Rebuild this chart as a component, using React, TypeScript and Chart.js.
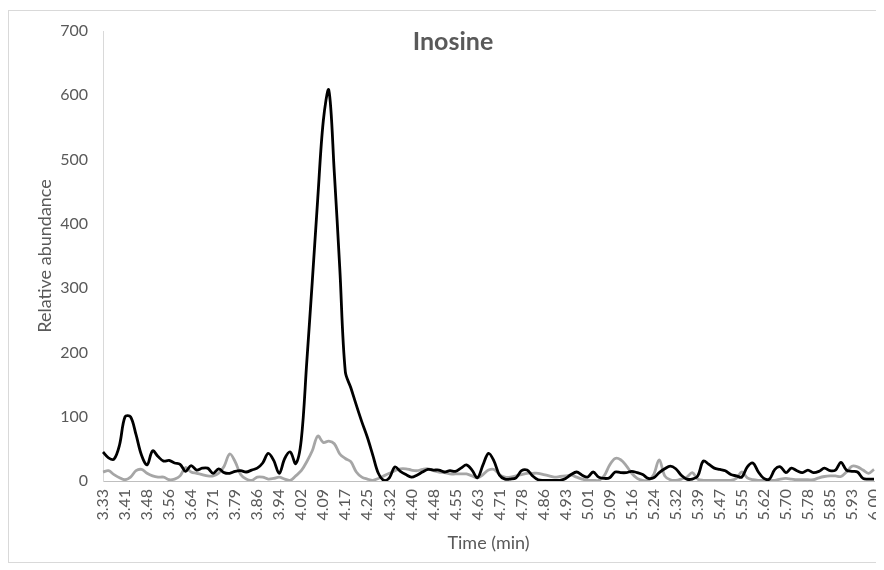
import React, { useEffect, useRef } from "react";
import { Chart, registerables } from "chart.js";

Chart.register(...registerables);

const chartTitle = "Inosine";
const xAxisTitle = "Time (min)";
const yAxisTitle = "Relative abundance";

// Axis tick labels shown every 4th data point
const tickLabels = [
  "3.33", "3.41", "3.48", "3.56", "3.64", "3.71", "3.79", "3.86", "3.94",
  "4.02", "4.09", "4.17", "4.25", "4.32", "4.40", "4.48", "4.55", "4.63",
  "4.71", "4.78", "4.86", "4.93", "5.01", "5.09", "5.16", "5.24", "5.32",
  "5.39", "5.47", "5.55", "5.62", "5.70", "5.78", "5.85", "5.93", "6.00",
];
const pointsPerTick = 4;

// Black trace
const blackSeries = [
  45, 36, 34, 56, 100, 100, 72, 40, 25, 47, 38, 31, 32, 28, 26, 15,
  24, 17, 20, 20, 12, 19, 13, 12, 15, 16, 14, 17, 20, 28, 43, 32,
  12, 35, 45, 27, 64, 185, 310, 440, 560, 608, 480, 330, 170, 145, 118, 92,
  68, 40, 12, 1, 5, 22, 15, 10, 6, 9, 14, 18, 17, 17, 14, 16,
  15, 20, 25, 17, 5, 25, 43, 31, 9, 3, 3, 5, 16, 17, 8, 2,
  1, 1, 1, 1, 4, 10, 14, 9, 6, 14, 6, 4, 5, 14, 13, 13,
  15, 13, 10, 4, 5, 13, 19, 23, 19, 9, 3, 3, 8, 31, 26, 20,
  18, 16, 10, 8, 6, 22, 28, 14, 4, 3, 18, 22, 13, 20, 16, 13,
  17, 13, 15, 20, 16, 17, 29, 17, 15, 14, 4, 3, 3,
];

// Gray trace
const graySeries = [
  14, 16, 10, 5, 2, 6, 16, 18, 12, 8, 6, 6, 2, 3, 8, 21,
  14, 12, 10, 8, 8, 12, 23, 42, 30, 10, 3, 1, 6, 6, 3, 4,
  6, 3, 1, 8, 16, 30, 47, 70, 60, 62, 58, 42, 35, 30, 14, 6,
  3, 1, 4, 8, 12, 16, 19, 19, 17, 16, 18, 19, 16, 14, 13, 11,
  11, 11, 11, 8, 5, 10, 17, 18, 10, 6, 6, 8, 10, 12, 12, 12,
  10, 8, 6, 7, 8, 9, 6, 3, 1, 1, 1, 8, 25, 35, 33, 24,
  12, 4, 1, 1, 10, 33, 8, 2, 1, 3, 6, 13, 3, 1, 1, 1,
  1, 1, 1, 4, 14, 5, 2, 1, 1, 1, 1, 3, 4, 3, 2, 2,
  2, 2, 5, 7, 8, 8, 7, 14, 23, 22, 17, 12, 18,
];

const yTicks = { min: 0, max: 700, step: 100 };

const textColor = "#595959";
const fontFamily = "Lato, 'Open Sans', sans-serif";

export default function App() {
  const canvasRef = useRef<HTMLCanvasElement | null>(null);

  useEffect(() => {
    const canvas = canvasRef.current;
    if (!canvas) return;

    const titlePlugin = {
      id: "overlayTitle",
      afterDraw(chart: any) {
        const ctx = chart.ctx;
        ctx.save();
        ctx.font = `bold 25px ${fontFamily}`;
        ctx.fillStyle = textColor;
        ctx.textAlign = "center";
        ctx.textBaseline = "middle";
        ctx.fillText(chartTitle, 445, 34);
        ctx.restore();
      },
    };

    const chart = new Chart(canvas, {
      type: "line",
      data: {
        labels: blackSeries.map((_, i) => i),
        datasets: [
          {
            label: "Black",
            data: blackSeries,
            borderColor: "#000000",
            borderWidth: 2.8,
            pointRadius: 0,
            tension: 0.35,
            fill: false,
          },
          {
            label: "Gray",
            data: graySeries,
            borderColor: "#a6a6a6",
            borderWidth: 2.8,
            pointRadius: 0,
            tension: 0.35,
            fill: false,
          },
        ],
      },
      options: {
        animation: false,
        responsive: false,
        maintainAspectRatio: false,
        layout: { padding: { top: 23, right: 10, bottom: 0, left: 0 } },
        plugins: {
          legend: { display: false },
          tooltip: { enabled: false },
          title: { display: false },
        },
        scales: {
          x: {
            type: "category",
            offset: false,
            grid: { display: false, drawTicks: false },
            border: { display: true, color: "#bfbfbf", width: 1 },
            ticks: {
              autoSkip: false,
              minRotation: 90,
              maxRotation: 90,
              padding: 8,
              color: textColor,
              font: { family: fontFamily, size: 16 },
              callback: (_v: any, index: number) =>
                index % pointsPerTick === 0 ? tickLabels[index / pointsPerTick] : null,
            },
            title: {
              display: true,
              text: xAxisTitle,
              color: textColor,
              font: { family: fontFamily, size: 18 },
              padding: { top: 0, bottom: 16 },
            },
            afterFit: (scale: any) => {
              scale.height = 89;
              scale.paddingLeft = 0;
              scale.paddingRight = 0;
            },
          },
          y: {
            min: yTicks.min,
            max: yTicks.max,
            grid: { display: false, drawTicks: false },
            border: { display: true, color: "#d9d9d9", width: 1 },
            ticks: {
              stepSize: yTicks.step,
              padding: 15,
              color: textColor,
              font: { family: fontFamily, size: 16 },
            },
            title: {
              display: true,
              text: yAxisTitle,
              color: textColor,
              font: { family: fontFamily, size: 18 },
              padding: { top: 26, bottom: 0 },
            },
            afterFit: (scale: any) => {
              scale.width = 95;
              scale.paddingTop = 0;
              scale.paddingBottom = 0;
            },
          },
        },
      },
      plugins: [titlePlugin],
    });

    return () => {
      chart.destroy();
    };
  }, []);

  return (
    <div style={{ position: "relative", width: 876, height: 562 }}>
      <div
        style={{
          position: "absolute",
          left: 0,
          top: 2,
          width: 868,
          height: 551,
          border: "1px solid #d9d9d9",
          pointerEvents: "none",
        }}
      />
      <canvas
        ref={canvasRef}
        width={876}
        height={562}
        style={{ position: "absolute", left: 0, top: 0, width: 876, height: 562 }}
      />
    </div>
  );
}
